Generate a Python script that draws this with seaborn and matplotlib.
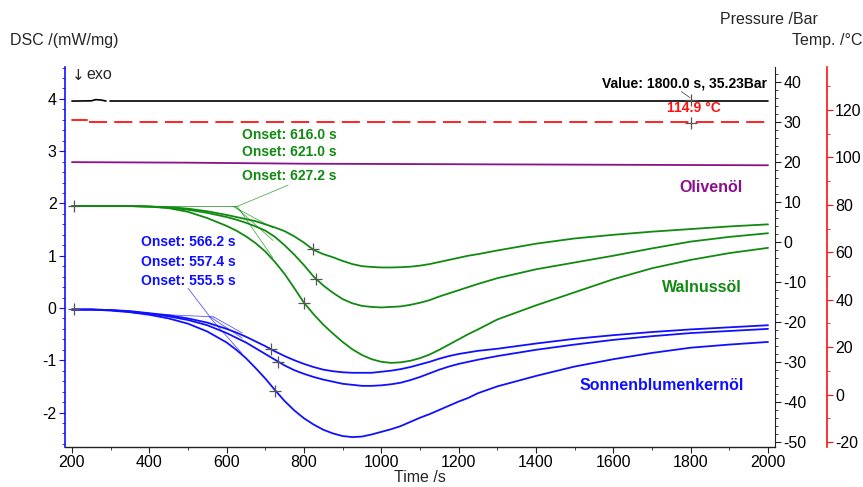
import numpy as np
import pandas as pd
import seaborn as sns
from matplotlib import pyplot as plt
from matplotlib.ticker import MultipleLocator

# Time axis (s) shared by the DSC curves
time_s = [200, 250, 300, 350, 400, 450, 500, 550,
          600, 625, 650, 675, 700, 725, 750, 775, 800, 825, 850, 875, 900, 925, 950, 975,
          1000, 1025, 1050, 1075, 1100, 1125, 1150, 1175, 1200, 1225, 1250,
          1300, 1400, 1500, 1600, 1700, 1800, 1900, 2000]

# Walnussöl (green), three runs
walnut_a = [1.95, 1.95, 1.95, 1.95, 1.94, 1.93, 1.90, 1.85,
            1.78, 1.74, 1.70, 1.66, 1.60, 1.54, 1.47, 1.37, 1.25, 1.11, 1.03, 0.97, 0.90, 0.84, 0.80, 0.785,
            0.775, 0.775, 0.78, 0.79, 0.81, 0.84, 0.88, 0.92, 0.96, 1.00, 1.03,
            1.10, 1.23, 1.33, 1.40, 1.46, 1.51, 1.56, 1.60]
walnut_b = [1.95, 1.95, 1.95, 1.95, 1.94, 1.92, 1.88, 1.82,
            1.74, 1.69, 1.63, 1.56, 1.48, 1.36, 1.20, 1.02, 0.82, 0.60, 0.43, 0.29, 0.17, 0.09, 0.04, 0.02,
            0.01, 0.02, 0.03, 0.06, 0.10, 0.15, 0.22, 0.28, 0.34, 0.40, 0.46,
            0.57, 0.74, 0.87, 1.00, 1.14, 1.27, 1.36, 1.43]
walnut_c = [1.95, 1.95, 1.95, 1.95, 1.94, 1.91, 1.84, 1.72,
            1.57, 1.48, 1.37, 1.24, 1.08, 0.88, 0.65, 0.38, 0.10, -0.12, -0.32, -0.49, -0.65, -0.79, -0.90, -0.98,
            -1.03, -1.05, -1.04, -1.01, -0.96, -0.89, -0.80, -0.70, -0.60, -0.50, -0.41,
            -0.22, 0.05, 0.30, 0.55, 0.76, 0.92, 1.05, 1.15]

# Sonnenblumenkernöl (blue), three runs
sun_a = [-0.03, -0.03, -0.04, -0.06, -0.10, -0.14, -0.20, -0.28,
         -0.40, -0.47, -0.55, -0.64, -0.73, -0.83, -0.92, -1.00, -1.07, -1.13, -1.18, -1.21, -1.23, -1.24, -1.24, -1.24,
         -1.22, -1.20, -1.17, -1.13, -1.08, -1.03, -0.97, -0.92, -0.88, -0.85, -0.82,
         -0.78, -0.68, -0.59, -0.52, -0.46, -0.41, -0.37, -0.33]
sun_b = [-0.03, -0.03, -0.04, -0.07, -0.11, -0.16, -0.23, -0.33,
         -0.48, -0.57, -0.66, -0.77, -0.88, -0.99, -1.10, -1.19, -1.26, -1.32, -1.37, -1.41, -1.45, -1.47, -1.49, -1.49,
         -1.48, -1.46, -1.43, -1.38, -1.32, -1.25, -1.18, -1.12, -1.07, -1.03, -0.99,
         -0.92, -0.80, -0.70, -0.61, -0.54, -0.48, -0.44, -0.40]
sun_c = [-0.03, -0.03, -0.05, -0.08, -0.13, -0.20, -0.30, -0.45,
         -0.66, -0.80, -0.96, -1.15, -1.35, -1.57, -1.78, -1.96, -2.11, -2.23, -2.33, -2.40, -2.45, -2.47, -2.46, -2.42,
         -2.37, -2.32, -2.26, -2.18, -2.10, -2.03, -1.95, -1.87, -1.79, -1.72, -1.63,
         -1.50, -1.30, -1.12, -0.98, -0.86, -0.76, -0.70, -0.65]

# Olivenöl (purple)
olive_t = [200, 500, 800, 1200, 1600, 2000]
olive = [2.79, 2.78, 2.76, 2.75, 2.74, 2.73]

# Pressure (Bar), with a short gap near 290 s
pres_t1 = [200, 250, 262, 275, 288]
pres_1 = [35.23, 35.3, 35.6, 35.5, 35.25]
pres_t2 = [298, 1000, 2000]
pres_2 = [35.23, 35.23, 35.23]

# Temperature (°C)
temp_t1 = [200, 240]
temp_1 = [115.6, 115.6]
temp_t2 = [245, 1000, 2000]
temp_2 = [114.9, 114.9, 114.9]

# Onsets and inflection markers
green_onsets = [616.0, 621.0, 627.2]
green_infl_t = [824, 831, 800]
green_infl_y = [1.12, 0.56, 0.10]
blue_onsets = [566.2, 557.4, 555.5]
blue_infl_t = [715, 733, 725]
blue_infl_y = [-0.79, -1.03, -1.58]

GREEN = '#118a11'
BLUE = '#1010ff'
PURPLE = '#8b108b'
RED = '#ff1010'

sns.set_style('white')
plt.rcParams['font.family'] = ['Liberation Sans', 'DejaVu Sans']
plt.rcParams['font.size'] = 11.5
plt.rcParams['axes.unicode_minus'] = False

fig = plt.figure(figsize=(8.63, 4.87), dpi=100)
ax = fig.add_axes([0.0753, 0.0821, 0.8227, 0.7803])
ax_p = ax.twinx()
ax_t = ax.twinx()

lw = 1.3
for ys in (walnut_a, walnut_b, walnut_c):
    sns.lineplot(x=time_s, y=ys, ax=ax, color=GREEN, lw=lw)
for ys in (sun_a, sun_b, sun_c):
    sns.lineplot(x=time_s, y=ys, ax=ax, color=BLUE, lw=lw)
sns.lineplot(x=olive_t, y=olive, ax=ax, color=PURPLE, lw=lw)

sns.lineplot(x=pres_t1, y=pres_1, ax=ax_p, color='black', lw=1.2)
sns.lineplot(x=pres_t2, y=pres_2, ax=ax_p, color='black', lw=1.2)
sns.lineplot(x=temp_t1, y=temp_1, ax=ax_t, color=RED, lw=1.3)
sns.lineplot(x=temp_t2, y=temp_2, ax=ax_t, color=RED, lw=1.3, linestyle=(0, (10, 4)))

# Baselines and tangents for onset construction
ax.plot([450, 628], [1.945, 1.945], color=GREEN, lw=0.7, alpha=0.7)
for t0, ti, yi in zip(green_onsets, green_infl_t, green_infl_y):
    slope = (yi - 1.945) / (ti - t0)
    ax.plot([t0, 720], [1.945, 1.945 + slope * (720 - t0)], color=GREEN, lw=0.6, alpha=0.7)
ax.plot([358, 567], [-0.10, -0.17], color=BLUE, lw=0.6, alpha=0.7)
for t0, ti, yi in zip(blue_onsets, blue_infl_t, blue_infl_y):
    slope = (yi + 0.17) / (ti - t0)
    ax.plot([t0, 640], [-0.17, -0.17 + slope * (640 - t0)], color=BLUE, lw=0.6, alpha=0.7)

# Leader lines to the onset labels
ax.plot([759, 628], [2.35, 1.945], color=GREEN, lw=0.6, alpha=0.7)
ax.plot([500, 557], [0.38, -0.17], color=BLUE, lw=0.6, alpha=0.7)

mk = dict(marker='+', color='#555555', ms=9, mew=0.9, ls='none')
ax.plot(green_infl_t, green_infl_y, **mk)
ax.plot(blue_infl_t, blue_infl_y, **mk)
ax.plot([205, 205], [1.95, -0.02], **mk)
ax_p.plot([1800], [35.6], **mk)
ax_t.plot([1800], [114.6], **mk)
ax_p.plot([1776, 1798], [37.6, 36.1], color='#555555', lw=0.6)

# Annotations
bold = dict(fontsize=10, fontweight='bold', ha='center', va='center')
for y, lab in zip([3.31, 2.98, 2.52], ['Onset: 616.0 s', 'Onset: 621.0 s', 'Onset: 627.2 s']):
    ax.text(762, y, lab, color=GREEN, **bold)
for y, lab in zip([1.26, 0.88, 0.52], ['Onset: 566.2 s', 'Onset: 557.4 s', 'Onset: 555.5 s']):
    ax.text(500, y, lab, color=BLUE, **bold)
ax.text(1997, 4.30, 'Value: 1800.0 s, 35.23Bar', color='black', fontsize=10, fontweight='bold',
        ha='right', va='center')
ax.text(1809, 3.82, '114.9 °C', color=RED, **bold)
ax.text(1853, 2.31, 'Olivenöl', color=PURPLE, fontsize=11.5, fontweight='bold', ha='center', va='center')
ax.text(1829, 0.40, 'Walnussöl', color=GREEN, fontsize=11.5, fontweight='bold', ha='center', va='center')
ax.text(1726, -1.49, 'Sonnenblumenkernöl', color=BLUE, fontsize=11.5, fontweight='bold',
        ha='center', va='center')
ax.text(200, 4.45, '↓', fontsize=11, ha='left', va='center', family=['DejaVu Sans'])
ax.text(238, 4.47, 'exo', fontsize=11.5, ha='left', va='center')

# Axes ranges and ticks
ax.set_xlim(182, 2018)
ax.set_ylim(-2.66, 4.61)
ax_p.set_ylim(-51.25, 43.75)
ax_t.set_ylim(-22.1, 138.1)

ax.xaxis.set_major_locator(MultipleLocator(200))
ax.xaxis.set_minor_locator(MultipleLocator(100))
ax.yaxis.set_major_locator(MultipleLocator(1))
ax.yaxis.set_minor_locator(MultipleLocator(0.2))
ax_p.yaxis.set_major_locator(MultipleLocator(10))
ax_p.yaxis.set_minor_locator(MultipleLocator(2))
ax_t.yaxis.set_major_locator(MultipleLocator(20))
ax_t.yaxis.set_minor_locator(MultipleLocator(10))

for s in ('top', 'right'):
    ax.spines[s].set_visible(False)
ax.spines['left'].set_color(BLUE)
ax.spines['left'].set_linewidth(1.2)
ax.spines['bottom'].set_color('#222222')
ax.spines['bottom'].set_linewidth(1.0)
for a in (ax_p, ax_t):
    for s in ('top', 'left', 'bottom'):
        a.spines[s].set_visible(False)
ax_p.spines['right'].set_color('#222222')
ax_t.spines['right'].set_position(('axes', 1.073))
ax_t.spines['right'].set_color(RED)
ax_t.spines['right'].set_linewidth(1.2)

ax.tick_params(axis='x', which='both', direction='out', bottom=True, colors='#222222', labelcolor='black')
ax.tick_params(axis='x', which='major', length=4, labelsize=11.5, pad=2)
ax.tick_params(axis='x', which='minor', length=2.5)
ax.tick_params(axis='y', which='both', direction='out', left=True, colors=BLUE, labelcolor='black')
ax.tick_params(axis='y', which='major', length=4, labelsize=11.5, pad=2)
ax.tick_params(axis='y', which='minor', length=2)
ax_p.tick_params(axis='y', which='both', direction='out', right=True, colors='#222222', labelcolor='black')
ax_p.tick_params(axis='y', which='major', length=4, labelsize=11.5, pad=2)
ax_p.tick_params(axis='y', which='minor', length=2)
ax_t.tick_params(axis='y', which='both', direction='out', right=True, colors=RED, labelcolor='black')
ax_t.tick_params(axis='y', which='major', length=4, labelsize=11.5, pad=2)
ax_t.tick_params(axis='y', which='minor', length=2)

ax.set_xlabel('')
ax.set_ylabel('')
ax_p.set_ylabel('')
ax_t.set_ylabel('')

fig.text(10 / 863, 1 - 40 / 487, 'DSC /(mW/mg)', fontsize=11.5, ha='left', va='center')
fig.text(769 / 863, 1 - 20 / 487, 'Pressure /Bar', fontsize=11.5, ha='center', va='center')
fig.text(862 / 863, 1 - 40 / 487, 'Temp. /°C', fontsize=11.5, ha='right', va='center')
fig.text(420 / 863, 1 - 478 / 487, 'Time /s', fontsize=11.5, ha='center', va='center')

fig.savefig('out.png', dpi=100)
